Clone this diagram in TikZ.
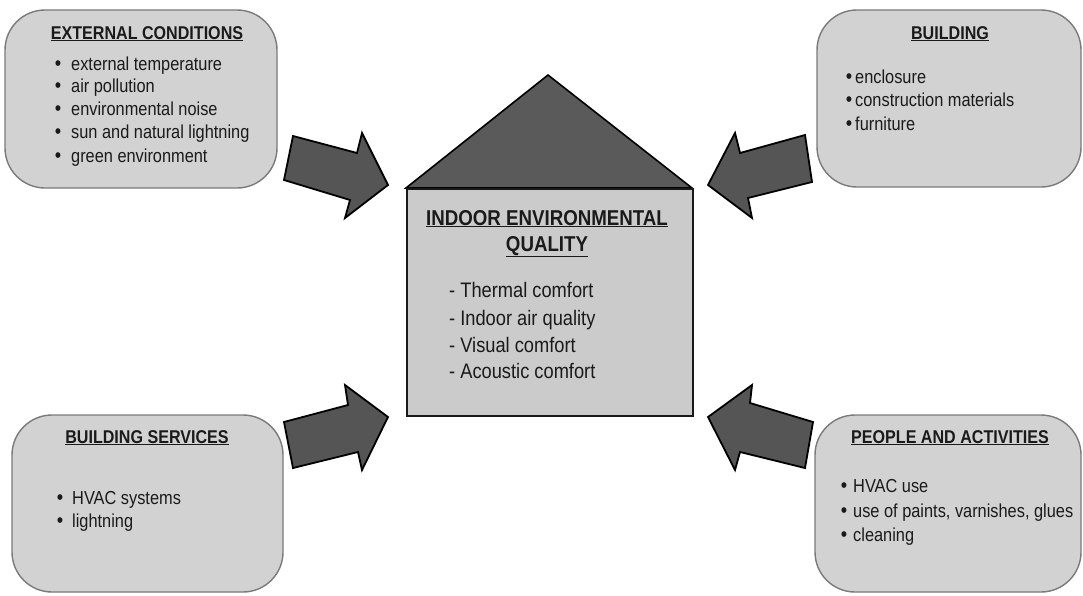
\documentclass[tikz,border=0pt]{standalone}
\usepackage{fontspec}
\setmainfont[FakeStretch=0.87]{Liberation Sans}
\begin{document}
\begin{tikzpicture}[x=1pt,y=-1pt,
  box/.style={draw=boxline,fill=boxfill,line width=1.4pt,rounded corners=40pt},
  title/.style={anchor=base,inner sep=0pt,font=\fontsize{18.5}{22}\selectfont\bfseries,text=txt},
  item/.style={anchor=base west,inner sep=0pt,font=\fontsize{18.8}{22}\selectfont,text=txt},
  bul/.style={anchor=base,inner sep=0pt,font=\fontsize{21}{22}\selectfont,text=txt},
  ctitle/.style={anchor=base,inner sep=0pt,font=\fontsize{21.5}{24}\selectfont\bfseries,text=txt},
  citem/.style={anchor=base west,inner sep=0pt,font=\fontsize{21}{24}\selectfont,text=txt},
  blockarrow/.style={draw=black,fill=arrowfill,line width=1.8pt,line join=miter}]
\definecolor{boxfill}{HTML}{D2D2D2}
\definecolor{boxline}{HTML}{7A7A7A}
\definecolor{housefill}{HTML}{CBCBCB}
\definecolor{rooffill}{HTML}{5A5A5A}
\definecolor{arrowfill}{HTML}{555555}
\definecolor{txt}{HTML}{1A1A1A}
\useasboundingbox (0,0) rectangle (1083,595);

% outer boxes
\draw[box] (5,10) rectangle (277,188);
\draw[box] (817,10) rectangle (1081,187);
\draw[box] (12,415) rectangle (283,592);
\draw[box] (815,415) rectangle (1081,592);

% house
\draw[draw=black,fill=rooffill,line width=1.6pt,line join=miter] (406,188) -- (548,75) -- (692,188) -- cycle;
\node[draw=black!90,fill=housefill,line width=1.8pt,minimum width=286pt,minimum height=227pt,inner sep=0pt,anchor=north west] (ieq) at (406,188) {};

% box 1
\node[title] (t1) at (147,39) {\underline{EXTERNAL CONDITIONS}};
\foreach \y/\t in {70/external temperature,92/air pollution,115/environmental noise,138/sun and natural lightning,162/green environment}{
  \node[bul] at (58,\y) {\textbullet};
  \node[item] at (71,\y) {\t};
}
% box 2
\node[title] (t2) at (950,39) {\underline{BUILDING}};
\foreach \y/\t in {83/enclosure,106/construction materials,130/furniture}{
  \node[bul] at (849,\y) {\textbullet};
  \node[item] at (855,\y) {\t};
}
% box 3
\node[title] (t3) at (147,443) {\underline{BUILDING SERVICES}};
\foreach \y/\t in {504/HVAC systems,527/lightning}{
  \node[bul] at (60,\y) {\textbullet};
  \node[item] at (72,\y) {\t};
}
% box 4
\node[title] (t4) at (950,443) {\underline{PEOPLE AND ACTIVITIES}};
\foreach \y/\t in {492/HVAC use,517/{use of paints, varnishes, glues},541/cleaning}{
  \node[bul] at (844,\y) {\textbullet};
  \node[item] at (853,\y) {\t};
}

% center text
\node[ctitle] (ct1) at (547,225) {\underline{INDOOR ENVIRONMENTAL}};
\node[ctitle] (ct2) at (547,251) {\underline{QUALITY}};
\foreach \y/\t in {297/Thermal comfort,325/Indoor air quality,352/Visual comfort,378/Acoustic comfort}{
  \node[citem] at (449,\y) {- \t};
}

% block arrows
\draw[blockarrow] (293,136) -- (357,153) -- (362,133) -- (388,185) -- (345,218) -- (350,200) -- (284,180) -- cycle;
\draw[blockarrow] (805,135) -- (740,153) -- (735,133) -- (708,185) -- (752,218) -- (748,198) -- (812,182) -- cycle;
\draw[blockarrow] (284,422) -- (348,405) -- (345,385) -- (388,417) -- (362,470) -- (358,452) -- (293,468) -- cycle;
\draw[blockarrow] (813,422) -- (750,403) -- (752,385) -- (708,417) -- (735,470) -- (740,452) -- (805,468) -- cycle;
\end{tikzpicture}
\end{document}
